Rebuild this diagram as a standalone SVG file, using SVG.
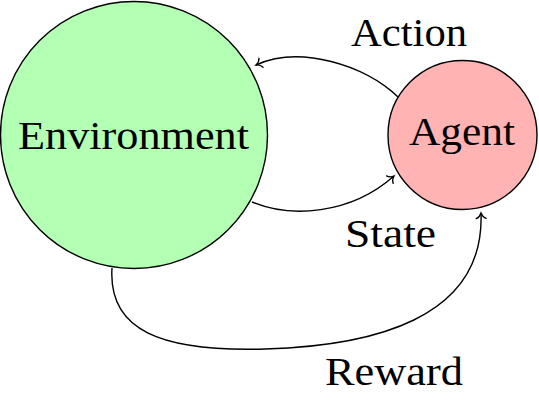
<svg xmlns="http://www.w3.org/2000/svg" width="539" height="413" viewBox="0 0 539 413">
  <style>
    .node { stroke: #000; stroke-width: 1.4; }
    .lbl { font-family: "Liberation Serif", "DejaVu Serif", serif; font-size: 41px; fill: #000; text-anchor: middle; }
    .edge { fill: none; stroke: #000; stroke-width: 1.4; }
  </style>
  <defs>
    <marker id="to" markerUnits="userSpaceOnUse" viewBox="-8 -7 10 14" refX="0" refY="0" markerWidth="10" markerHeight="14" orient="auto" overflow="visible">
      <path d="M -5.5,-5 C -4.5,-2.2 -1.8,-0.6 0,0 C -1.8,0.6 -4.5,2.2 -5.5,5" fill="none" stroke="#000" stroke-width="1.3" stroke-linecap="round"/>
    </marker>
  </defs>
  <rect width="539" height="413" fill="#fff"/>
  <g id="environment">
    <circle class="node" cx="134" cy="135" r="133.5" fill="#b3ffb3"/>
    <text class="lbl" x="133.5" y="149" textLength="231" lengthAdjust="spacingAndGlyphs">Environment</text>
  </g>
  <g id="agent">
    <circle class="node" cx="462.5" cy="135" r="74.5" fill="#ffb3b3"/>
    <text class="lbl" x="462" y="145" textLength="106" lengthAdjust="spacingAndGlyphs">Agent</text>
  </g>
  <g id="connectors">
    <path class="edge" d="M398,97 C365,65 300,45 256,65" marker-end="url(#to)"/>
    <path class="edge" d="M252,202 C290,218 350,215 394,176" marker-end="url(#to)"/>
    <path class="edge" d="M112,268 C108,330 160,352 265,349 C370,346 485,320 481,213" marker-end="url(#to)"/>
    <text class="lbl" x="409" y="46" textLength="116" lengthAdjust="spacingAndGlyphs">Action</text>
    <text class="lbl" x="390.5" y="247" textLength="91" lengthAdjust="spacingAndGlyphs">State</text>
    <text class="lbl" x="394" y="385" textLength="138" lengthAdjust="spacingAndGlyphs">Reward</text>
  </g>
</svg>
